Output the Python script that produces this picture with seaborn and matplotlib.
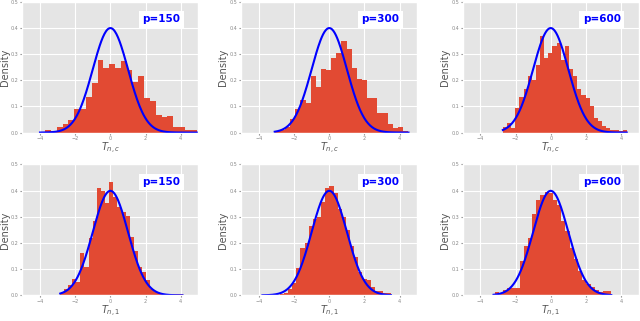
import numpy as np
import pandas as pd
import seaborn as sns
import matplotlib
matplotlib.use("Agg")
import matplotlib.pyplot as plt

# panel labels
p_labels = ["p=150", "p=300", "p=600", "p=150", "p=300", "p=600"]
x_labels = ["$T_{n,c}$", "$T_{n,c}$", "$T_{n,c}$", "$T_{n,1}$", "$T_{n,1}$", "$T_{n,1}$"]

# histogram bins: first edge, bin width, densities
bin_start = [-3.71, -3.10, -2.72, -2.88, -3.05, -3.19]
bin_width = [0.331, 0.2915, 0.235, 0.234, 0.235, 0.237]

dens_1 = [0.01, 0.006, 0.022, 0.031, 0.048, 0.089, 0.089, 0.134, 0.19, 0.276,
          0.246, 0.26, 0.246, 0.272, 0.24, 0.193, 0.215, 0.133, 0.12, 0.068,
          0.058, 0.065, 0.02, 0.02, 0.009, 0.009]
dens_2 = [0.005, 0.01, 0.02, 0.05, 0.09, 0.125, 0.112, 0.215, 0.175, 0.242,
          0.238, 0.285, 0.305, 0.348, 0.318, 0.245, 0.205, 0.2, 0.133, 0.133,
          0.075, 0.075, 0.034, 0.016, 0.02, 0.006]
dens_3 = [0.02, 0.036, 0.016, 0.093, 0.135, 0.168, 0.215, 0.2, 0.257, 0.369,
          0.286, 0.302, 0.332, 0.342, 0.277, 0.332, 0.242, 0.217, 0.168, 0.143,
          0.133, 0.103, 0.056, 0.046, 0.025, 0.019, 0.009, 0.009, 0.006, 0.01]
dens_4 = [0.01, 0.025, 0.04, 0.062, 0.05, 0.162, 0.11, 0.218, 0.284, 0.411,
          0.399, 0.353, 0.434, 0.374, 0.336, 0.319, 0.301, 0.222, 0.17, 0.11,
          0.09, 0.057, 0.025, 0.012, 0.007, 0.005, 0.005, 0.004, 0.004, 0.004]
dens_5 = [0.003, 0.006, 0.01, 0.025, 0.048, 0.105, 0.18, 0.2, 0.265, 0.29,
          0.3, 0.355, 0.41, 0.417, 0.39, 0.33, 0.3, 0.25, 0.19, 0.145,
          0.09, 0.062, 0.06, 0.03, 0.018, 0.015, 0.008, 0.008]
dens_6 = [0.012, 0.005, 0.022, 0.028, 0.028, 0.028, 0.13, 0.19, 0.218, 0.31,
          0.363, 0.384, 0.393, 0.39, 0.363, 0.343, 0.284, 0.244, 0.18, 0.14,
          0.091, 0.06, 0.044, 0.031, 0.022, 0.012, 0.017, 0.017]
densities = [dens_1, dens_2, dens_3, dens_4, dens_5, dens_6]

# range of the N(0,1) reference curve in each panel
curve_lo = [-4.0, -3.1, -2.72, -2.85, -3.8, -3.25]
curve_hi = [5.0, 4.5, 4.32, 4.1, 3.5, 3.44]

plt.style.use("ggplot")
fig = plt.figure(figsize=(6.4, 3.21), dpi=100)

lefts = [0.035, 0.377, 0.723]
bottoms = [0.587, 0.08]
w, h = 0.275, 0.408

for k in range(6):
    r, c = divmod(k, 3)
    ax = fig.add_axes([lefts[c], bottoms[r], w, h])
    d = np.array(densities[k])
    edges = bin_start[k] + bin_width[k] * np.arange(len(d) + 1)
    df = pd.DataFrame({"x": (edges[:-1] + edges[1:]) / 2, "w": d})
    sns.histplot(data=df, x="x", weights="w", bins=list(edges), stat="count",
                 ax=ax, color="#E24A33", alpha=1, linewidth=0)
    xs = np.linspace(curve_lo[k], curve_hi[k], 200)
    ax.plot(xs, np.exp(-xs ** 2 / 2) / np.sqrt(2 * np.pi), color="blue", lw=1.5)
    ax.set_xlim(-5, 5)
    ax.set_ylim(0, 0.5)
    ax.set_xticks([-4, -2, 0, 2, 4])
    ax.set_yticks([0, 0.1, 0.2, 0.3, 0.4, 0.5])
    ax.tick_params(labelsize=3.5, length=1.5, pad=1.2, colors="#888888")
    ax.set_xlabel(x_labels[k], fontsize=7, color="#555555", labelpad=0)
    ax.set_ylabel("Density", fontsize=7, color="#555555", labelpad=1)
    ax.text(0.79, 0.865, p_labels[k], transform=ax.transAxes, ha="center",
            va="center", color="blue", fontsize=7.5, fontweight="bold",
            bbox=dict(facecolor="white", edgecolor="none", pad=2.5))

fig.savefig("out.png", dpi=100)
